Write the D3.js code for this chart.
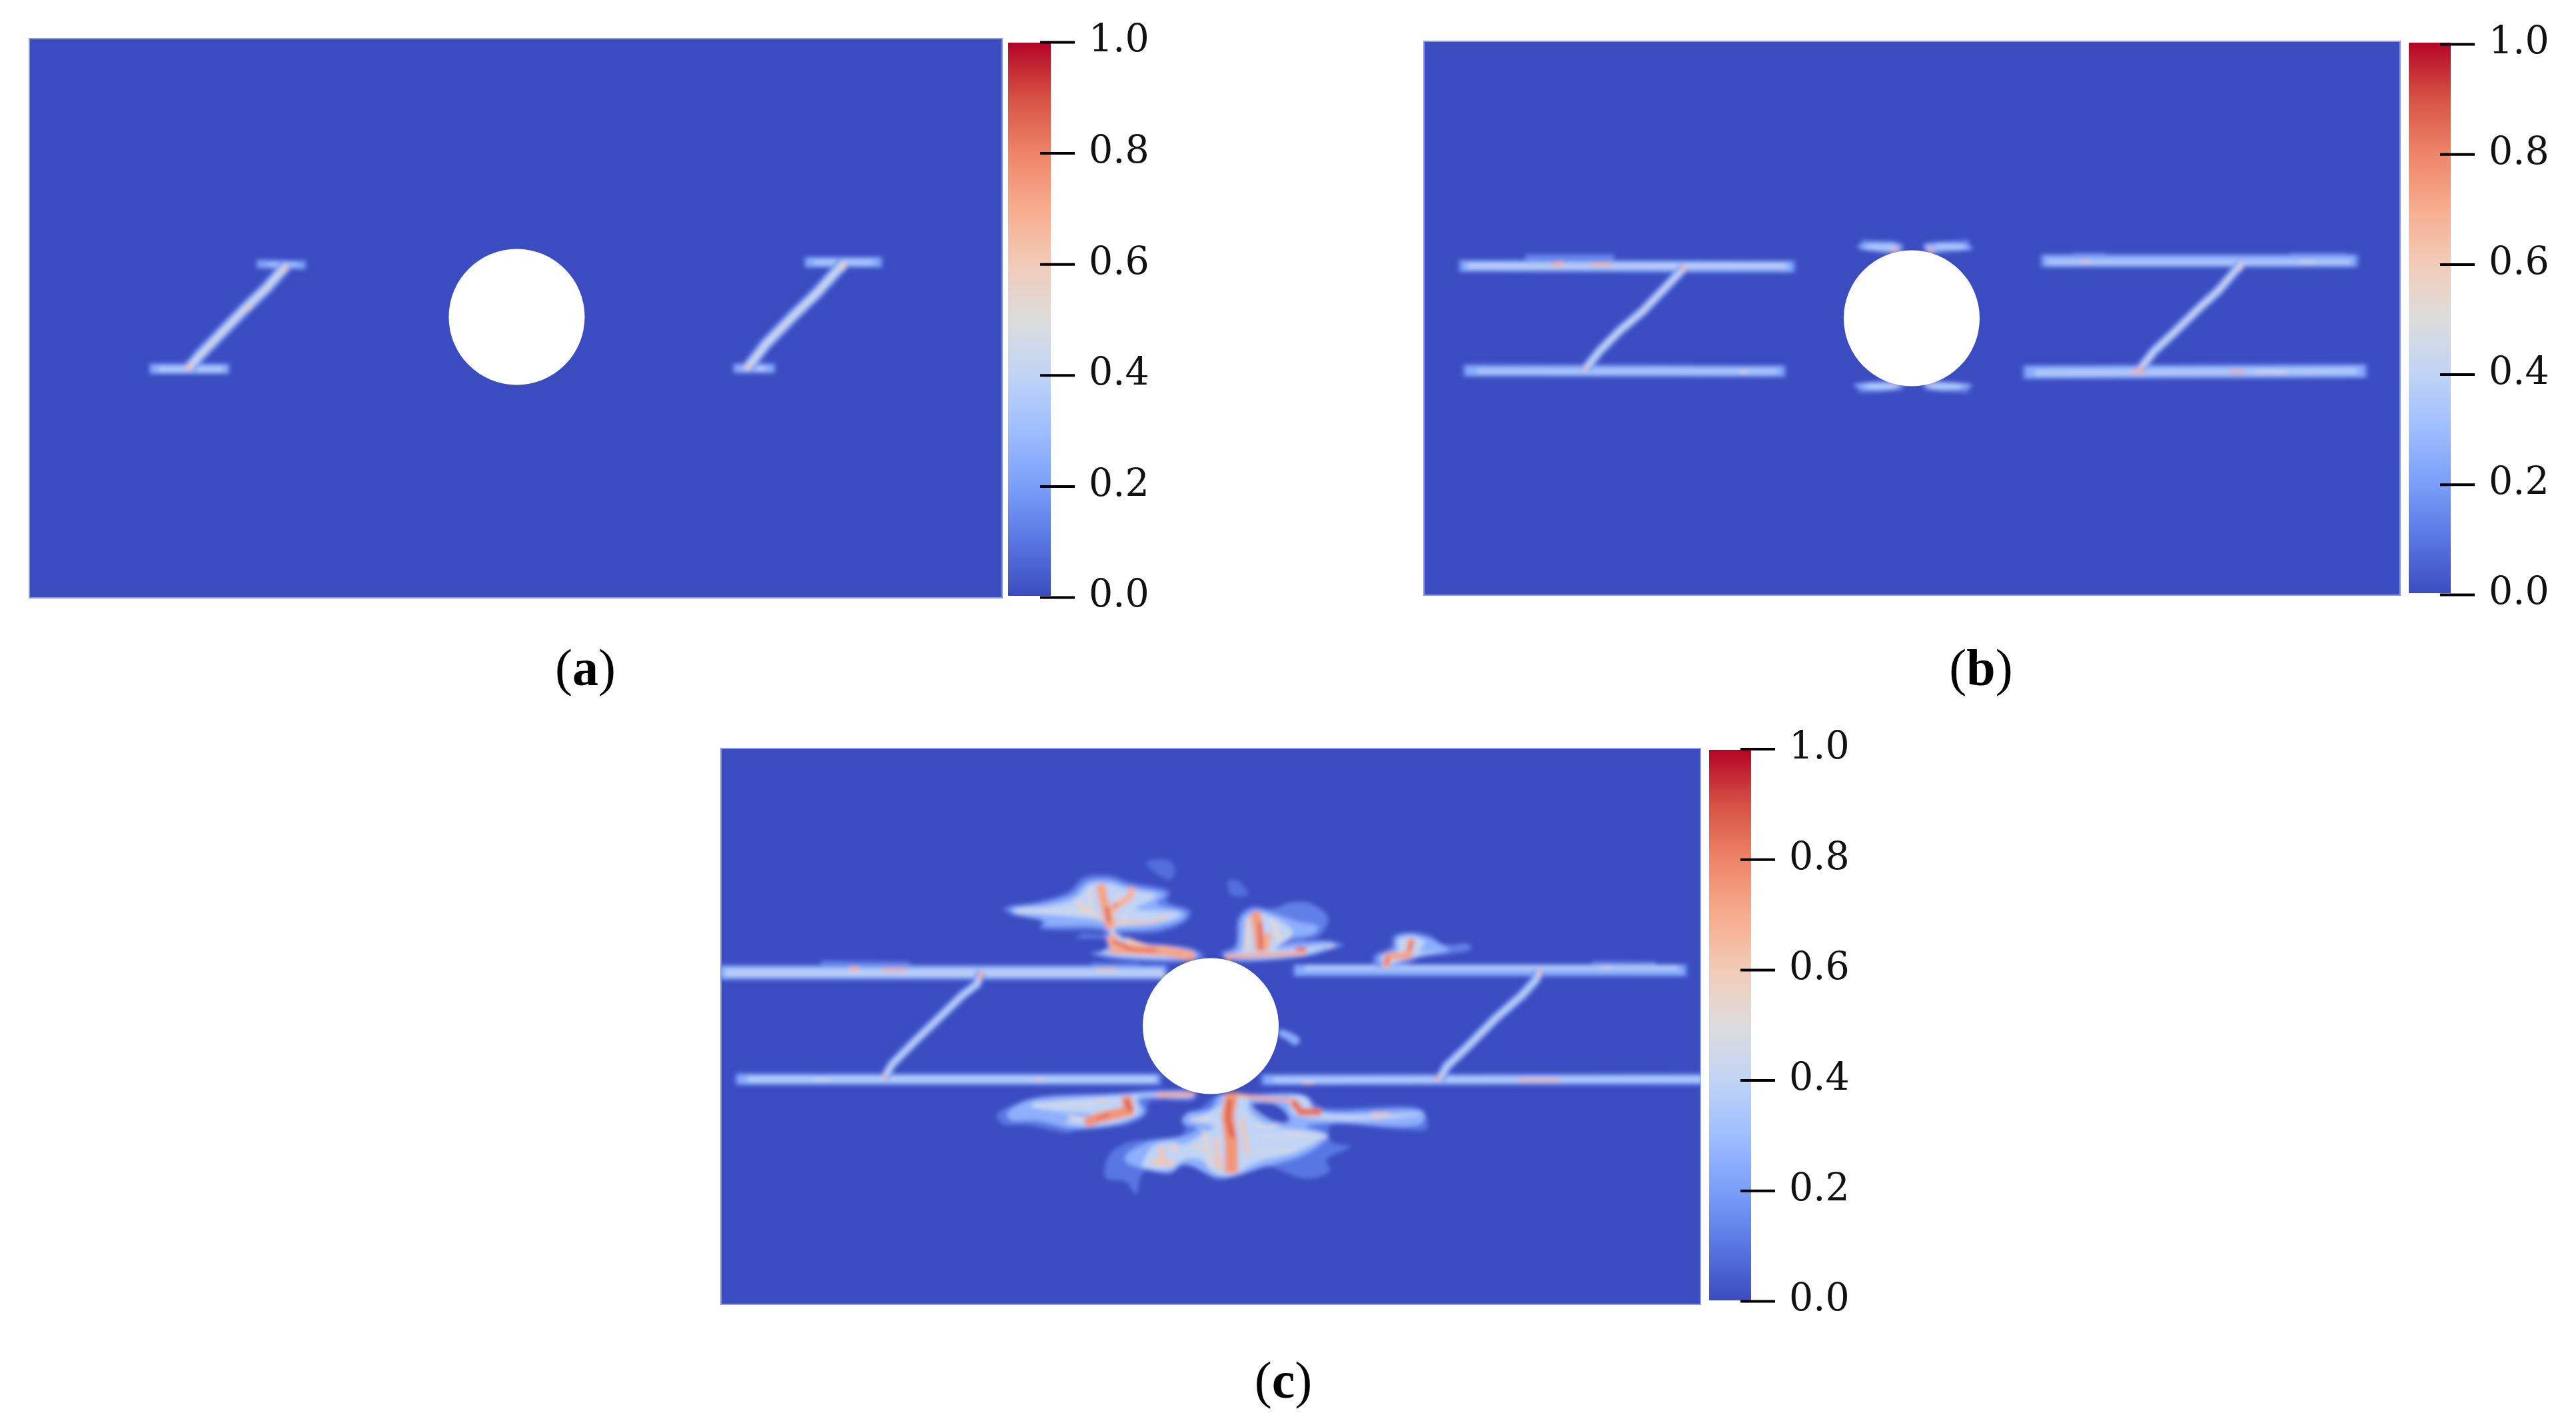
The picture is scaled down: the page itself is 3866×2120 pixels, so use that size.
<!DOCTYPE html>
<html>
<head>
<meta charset="utf-8">
<script src="https://cdn.jsdelivr.net/npm/d3@7"></script>
<style>
  html, body { margin: 0; background: #fff; }
  svg { display: block; }
  .tick text { font-family: "DejaVu Serif", serif; font-size: 57px; fill: #111; }
  .caption { font-family: "Liberation Serif", serif; font-size: 78px; fill: #000; text-anchor: middle; }
  .caption tspan { font-weight: bold; }
</style>
</head>
<body>
<div class="chart"></div>
<script>
// colour bar
const colorStops = [0, 0.1, 0.2, 0.3, 0.4, 0.5, 0.6, 0.7, 0.8, 0.9, 1];
const colorValues = ['#3b4cc0', '#5977e3', '#7b9ff9', '#9ebeff', '#c0d4f5', '#dddcdc', '#f2cbb7', '#f7ac8e', '#ee8468', '#d65244', '#b40426'];
const tickValues = [0, 0.2, 0.4, 0.6, 0.8, 1];

// damage field. rows are [damage, thickness, points]
const panelACracks = [
  [0.1, 50, [[30, 670], [190, 670]]],
  [0.24, 40, [[35, 670], [185, 670]]],
  [0.36, 22, [[50, 672], [175, 672]]],
  [0.1, 42, [[240, 198], [340, 203]]],
  [0.22, 32, [[245, 198], [335, 203]]],
  [0.32, 14, [[265, 200], [320, 200]]],
  [0.1, 50, [[1315, 190], [1470, 190]]],
  [0.24, 40, [[1320, 190], [1465, 190]]],
  [0.34, 20, [[1335, 190], [1450, 190]]],
  [0.1, 46, [[1175, 668], [1260, 668]]],
  [0.24, 36, [[1180, 668], [1255, 668]]],
  [0.36, 20, [[1195, 668], [1240, 668]]],
  [0.12, 58, [[110, 665], [130, 610], [168, 520], [221, 395], [260, 310], [300, 205]]],
  [0.28, 42, [[110, 665], [130, 610], [168, 520], [221, 395], [260, 310], [300, 205]]],
  [0.46, 20, [[110, 665], [130, 610], [168, 520], [221, 395], [260, 310], [300, 205]]],
  [0.12, 58, [[1205, 665], [1240, 560], [1295, 430], [1340, 330], [1395, 190]]],
  [0.28, 42, [[1205, 665], [1240, 560], [1295, 430], [1340, 330], [1395, 190]]],
  [0.46, 20, [[1205, 665], [1240, 560], [1295, 430], [1340, 330], [1395, 190]]],
  [0.64, 20, [[108, 648], [110, 674]]],
  [0.6, 14, [[221, 395], [232, 395]]],
  [0.56, 12, [[258, 310], [264, 310]]],
  [0.62, 12, [[299, 200], [293, 240]]],
  [0.62, 16, [[1205, 648], [1205, 674]]],
  [0.6, 14, [[1395, 190], [1392, 225]]]
];

const panelBCracks = [
  [0.14, 34, [[145, 172], [285, 172]]],
  [0.14, 24, [[1005, 160], [1055, 160]]],
  [0.14, 24, [[1345, 160], [1435, 160]]],
  [0.1, 56, [[40, 207], [570, 210]]],
  [0.24, 46, [[45, 207], [565, 210]]],
  [0.38, 24, [[55, 207], [555, 207]]],
  [0.1, 56, [[47, 678], [555, 680]]],
  [0.24, 46, [[52, 678], [550, 680]]],
  [0.34, 22, [[70, 682], [540, 682]]],
  [0.1, 60, [[953, 184], [1453, 184]]],
  [0.24, 50, [[958, 184], [1448, 184]]],
  [0.37, 18, [[965, 190], [1440, 190]]],
  [0.1, 64, [[925, 685], [1467, 680]]],
  [0.24, 54, [[930, 685], [1462, 680]]],
  [0.36, 26, [[945, 688], [1450, 680]]],
  [0.12, 46, [[395, 215], [360, 320], [330, 410], [293, 500], [262, 590], [240, 670]]],
  [0.26, 34, [[395, 215], [360, 320], [330, 410], [293, 500], [262, 590], [240, 670]]],
  [0.44, 16, [[395, 215], [360, 320], [330, 410], [293, 500], [262, 590], [240, 670]]],
  [0.12, 46, [[1268, 200], [1232, 320], [1205, 390], [1162, 510], [1132, 590], [1110, 670]]],
  [0.26, 34, [[1268, 200], [1232, 320], [1205, 390], [1162, 510], [1132, 590], [1110, 670]]],
  [0.44, 16, [[1268, 200], [1232, 320], [1205, 390], [1162, 510], [1132, 590], [1110, 670]]],
  [0.68, 14, [[185, 200], [207, 200]]],
  [0.68, 16, [[200, 185], [200, 200]]],
  [0.68, 14, [[248, 200], [280, 200]]],
  [0.66, 18, [[395, 208], [392, 230]]],
  [0.66, 14, [[240, 655], [240, 680]]],
  [0.55, 10, [[482, 685], [494, 685]]],
  [0.62, 12, [[1018, 188], [1032, 188]]],
  [0.6, 14, [[1268, 195], [1268, 225]]],
  [0.68, 16, [[1112, 655], [1108, 685]]],
  [0.68, 12, [[1095, 684], [1115, 684]]],
  [0.72, 12, [[1250, 684], [1275, 684]]],
  [0.5, 10, [[1290, 685], [1340, 685]]],
  [0.52, 8, [[1360, 188], [1385, 188]]],
  [0.12, 50, [[672, 112], [738, 132]]],
  [0.12, 50, [[772, 132], [842, 112]]],
  [0.12, 44, [[668, 758], [738, 742]]],
  [0.12, 44, [[772, 742], [842, 758]]]
];

const panelBWings = [
  [0.26, [[665, 120], [690, 102], [730, 105], [735, 130], [720, 145], [690, 135]]],
  [0.26, [[770, 115], [795, 100], [835, 110], [848, 128], [800, 135], [780, 145]]],
  [0.26, [[660, 745], [690, 730], [725, 735], [735, 750], [705, 770], [675, 760]]],
  [0.26, [[770, 745], [790, 730], [820, 735], [848, 745], [800, 770], [780, 760]]]
];

const panelBWingCores = [
  [0.38, 16, [[680, 122], [725, 125]]],
  [0.38, 16, [[790, 122], [835, 122]]],
  [0.38, 16, [[680, 748], [725, 750]]],
  [0.38, 16, [[785, 750], [830, 748]]],
  [0.66, 22, [[725, 125], [725, 145]]],
  [0.66, 22, [[782, 125], [782, 145]]],
  [0.64, 14, [[725, 738], [725, 750]]],
  [0.64, 16, [[780, 736], [782, 750]]]
];

const panelCCracks = [
  [0.12, 22, [[190, 585], [330, 590]]],
  [0.12, 16, [[615, 590], [690, 592]]],
  [0.12, 14, [[1400, 582], [1500, 585]]],
  [0.1, 68, [[30, 627], [735, 627]]],
  [0.24, 58, [[32, 627], [730, 627]]],
  [0.38, 34, [[40, 628], [725, 628]]],
  [0.1, 56, [[930, 618], [1550, 618]]],
  [0.24, 46, [[935, 618], [1545, 618]]],
  [0.35, 24, [[950, 605], [1535, 605]]],
  [0.1, 54, [[55, 1108], [725, 1108]]],
  [0.24, 44, [[60, 1108], [720, 1108]]],
  [0.38, 24, [[75, 1108], [715, 1108]]],
  [0.1, 52, [[880, 1110], [1575, 1108]]],
  [0.24, 42, [[885, 1110], [1575, 1108]]],
  [0.36, 22, [[900, 1112], [1575, 1108]]],
  [0.12, 44, [[442, 625], [435, 680], [412, 730], [378, 825], [340, 930], [302, 1040], [290, 1100]]],
  [0.26, 32, [[442, 625], [435, 680], [412, 730], [378, 825], [340, 930], [302, 1040], [290, 1100]]],
  [0.42, 14, [[442, 625], [435, 680], [412, 730], [378, 825], [340, 930], [302, 1040], [290, 1100]]],
  [0.12, 46, [[1318, 620], [1312, 660], [1290, 730], [1250, 830], [1205, 960], [1172, 1050], [1160, 1110]]],
  [0.26, 34, [[1318, 620], [1312, 660], [1290, 730], [1250, 830], [1205, 960], [1172, 1050], [1160, 1110]]],
  [0.42, 14, [[1318, 620], [1312, 660], [1290, 730], [1250, 830], [1205, 960], [1172, 1050], [1160, 1110]]],
  [0.68, 20, [[235, 612], [250, 612]]],
  [0.7, 12, [[285, 615], [325, 615]]],
  [0.62, 12, [[622, 615], [655, 615]]],
  [0.6, 14, [[725, 625], [727, 640]]],
  [0.7, 16, [[442, 625], [440, 660]]],
  [0.7, 14, [[290, 1085], [290, 1105]]],
  [0.55, 8, [[1415, 604], [1432, 604]]],
  [0.65, 12, [[1318, 615], [1318, 645]]],
  [0.7, 14, [[1160, 1090], [1157, 1115]]],
  [0.6, 10, [[526, 1112], [540, 1112]]],
  [0.46, 10, [[180, 1110], [205, 1110]]],
  [0.62, 10, [[945, 1125], [965, 1125]]],
  [0.68, 12, [[1285, 1112], [1350, 1112]]],
  [0.38, 12, [[918, 905], [932, 935]]]
];

const panelCSpot = [0.24, [[910, 885], [925, 895], [942, 930], [935, 955], [918, 925], [908, 910]]];

// upper cluster of panel (c): contours of equal damage, then the crack lines
const upperContours = [
  [0.08, [[530, 70], [600, 65], [615, 110], [600, 150], [550, 110]]],
  [0.08, [[770, 155], [800, 155], [830, 215], [780, 220]]],
  [0.12, [[110, 280], [220, 245], [300, 205], [345, 140], [420, 130], [480, 160], [600, 205], [590, 245], [660, 290], [650, 330], [570, 385], [455, 395], [500, 425], [670, 460], [700, 495], [640, 520], [420, 505], [365, 480], [410, 460], [410, 420], [325, 410], [340, 395], [405, 395], [405, 385], [215, 365], [225, 340], [130, 305]]],
  [0.12, [[750, 480], [790, 445], [800, 320], [840, 270], [900, 280], [960, 250], [1020, 260], [1065, 320], [1040, 400], [990, 420], [1080, 425], [1110, 445], [1060, 470], [1020, 490], [985, 500], [800, 520], [770, 510]]],
  [0.12, [[1200, 490], [1250, 450], [1255, 405], [1310, 385], [1370, 405], [1400, 440], [1480, 440], [1485, 460], [1420, 485], [1340, 500], [1290, 530], [1200, 535]]],
  [0.25, [[130, 280], [230, 255], [315, 215], [355, 160], [420, 150], [480, 180], [585, 215], [560, 255], [645, 300], [640, 325], [565, 365], [450, 378], [430, 385], [490, 430], [650, 465], [685, 495], [640, 510], [425, 495], [380, 480], [420, 465], [415, 375], [225, 355], [235, 340], [140, 300]]],
  [0.25, [[755, 490], [795, 460], [810, 320], [845, 285], [900, 300], [980, 340], [1035, 360], [1020, 395], [960, 410], [920, 440], [1060, 430], [1090, 445], [1020, 485], [800, 510]]],
  [0.25, [[1210, 500], [1260, 460], [1265, 410], [1310, 395], [1360, 415], [1420, 465], [1340, 490], [1280, 520], [1250, 535], [1215, 530]]],
  [0.4, [[140, 285], [240, 270], [320, 235], [365, 170], [415, 165], [470, 190], [560, 220], [540, 245], [500, 280], [630, 300], [620, 320], [540, 350], [440, 365], [435, 380], [485, 430], [640, 470], [675, 495], [640, 500], [420, 485], [400, 470], [425, 460], [410, 345], [330, 320], [230, 305], [145, 295]]],
  [0.4, [[770, 490], [810, 470], [825, 330], [850, 295], [890, 310], [960, 380], [950, 410], [910, 460], [1020, 450], [1060, 445], [1005, 480], [790, 500]]],
  [0.4, [[1225, 490], [1270, 470], [1270, 420], [1310, 405], [1350, 430], [1335, 470], [1400, 470], [1300, 500], [1250, 530], [1230, 530]]]
];

const upperCracks = [
  [0.46, 14, [[150, 290], [300, 295]]],
  [0.55, 12, [[360, 190], [370, 300]]],
  [0.55, 12, [[450, 215], [440, 300]]],
  [0.5, 12, [[470, 300], [460, 350]]],
  [0.58, 16, [[340, 270], [400, 330]]],
  [0.5, 10, [[300, 290], [380, 300]]],
  [0.62, 10, [[430, 330], [500, 345]]],
  [0.6, 16, [[470, 415], [540, 455]]],
  [0.55, 18, [[830, 320], [825, 470]]],
  [0.52, 22, [[900, 330], [925, 430]]],
  [0.5, 12, [[950, 390], [940, 415]]],
  [0.72, 42, [[395, 170], [405, 250], [420, 330], [425, 370]]],
  [0.68, 30, [[490, 185], [480, 230], [430, 280], [420, 320]]],
  [0.62, 12, [[440, 340], [540, 340], [590, 318]]],
  [0.86, 18, [[415, 270], [420, 340]]],
  [0.85, 14, [[432, 265], [445, 265]]],
  [0.55, 10, [[218, 290], [232, 290]]],
  [0.56, 18, [[325, 240], [350, 300]]],
  [0.7, 44, [[425, 400], [435, 440], [500, 465], [590, 470], [670, 495]]],
  [0.85, 16, [[430, 425], [490, 465], [560, 468]]],
  [0.74, 14, [[420, 472], [640, 485]]],
  [0.74, 22, [[650, 500], [670, 495]]],
  [0.74, 46, [[850, 295], [860, 380], [865, 470]]],
  [0.7, 30, [[890, 390], [880, 470]]],
  [0.87, 16, [[865, 340], [868, 470]]],
  [0.7, 16, [[770, 495], [1000, 480]]],
  [0.85, 18, [[970, 462], [1000, 462]]],
  [0.6, 10, [[1060, 448], [1078, 448]]],
  [0.72, 24, [[762, 500], [778, 500]]],
  [0.72, 32, [[1310, 415], [1300, 490], [1240, 495], [1235, 545]]],
  [0.85, 14, [[1312, 420], [1305, 470]]],
  [0.85, 14, [[1240, 495], [1238, 530]]]
];

// lower cluster of panel (c)
const lowerContours = [
  [0.1, [[90, 220], [180, 150], [430, 120], [560, 105], [680, 120], [670, 150], [540, 160], [530, 215], [480, 260], [320, 290], [300, 300], [260, 290], [180, 265], [110, 260]]],
  [0.1, [[420, 400], [470, 345], [640, 300], [640, 230], [690, 190], [740, 130], [830, 125], [1000, 130], [1040, 180], [1340, 195], [1355, 280], [1280, 285], [1070, 270], [1075, 340], [1130, 360], [1060, 420], [1070, 470], [1000, 505], [880, 450], [800, 490], [740, 510], [660, 450], [520, 480], [500, 575], [470, 520], [410, 500]]],
  [0.25, [[120, 215], [185, 150], [430, 125], [670, 118], [665, 140], [510, 150], [525, 205], [470, 250], [320, 280], [210, 245], [130, 240]]],
  [0.25, [[470, 400], [540, 340], [650, 310], [680, 280], [635, 250], [650, 210], [720, 190], [745, 130], [830, 130], [990, 130], [1030, 195], [1345, 205], [1340, 255], [1060, 255], [1000, 270], [1065, 310], [1050, 340], [990, 400], [860, 460], [790, 495], [730, 495], [640, 440], [600, 480], [500, 450], [470, 430]]],
  [0, [[840, 172], [910, 170], [945, 215], [950, 250], [900, 245]]],
  [0.4, [[190, 175], [430, 135], [660, 125], [650, 135], [500, 145], [510, 205], [460, 245], [340, 265], [290, 250], [370, 215], [280, 205], [190, 180]]],
  [0.4, [[520, 430], [550, 360], [600, 340], [640, 350], [700, 300], [730, 270], [660, 240], [700, 215], [750, 170], [760, 130], [830, 135], [830, 190], [880, 260], [1050, 310], [980, 380], [860, 430], [780, 490], [730, 480], [690, 420], [640, 420], [600, 460], [520, 450]]],
  [0.4, [[950, 140], [1000, 140], [1030, 200], [1340, 215], [1200, 240], [1020, 235], [960, 210]]]
];

const lowerCracks = [
  [0.45, 14, [[860, 320], [1060, 315]]],
  [0.45, 16, [[850, 380], [970, 375]]],
  [0.5, 10, [[850, 265], [920, 265]]],
  [0.47, 16, [[660, 240], [720, 235]]],
  [0.47, 12, [[930, 300], [1000, 300]]],
  [0.46, 16, [[200, 170], [380, 165]]],
  [0.48, 16, [[300, 225], [350, 240]]],
  [0.56, 16, [[700, 290], [720, 450]]],
  [0.62, 18, [[810, 230], [830, 400]]],
  [0.56, 16, [[665, 350], [700, 370]]],
  [0.64, 16, [[745, 400], [745, 470]]],
  [0.76, 46, [[470, 135], [480, 200], [390, 230], [350, 255]]],
  [0.87, 22, [[470, 150], [485, 200]]],
  [0.82, 24, [[420, 215], [385, 240]]],
  [0.58, 10, [[380, 155], [420, 155]]],
  [0.7, 18, [[560, 130], [670, 125]]],
  [0.76, 58, [[780, 130], [770, 220], [780, 340], [780, 480]]],
  [0.88, 20, [[775, 150], [770, 240], [785, 320]]],
  [0.62, 20, [[735, 320], [740, 450]]],
  [0.62, 24, [[575, 360], [575, 440]]],
  [0.56, 24, [[610, 350], [615, 385]]],
  [0.62, 22, [[545, 430], [610, 435]]],
  [0.7, 16, [[790, 125], [880, 145], [960, 150]]],
  [0.83, 34, [[960, 155], [985, 205], [1045, 205]]],
  [0.62, 12, [[1190, 215], [1245, 215]]],
  [0.6, 14, [[1205, 225], [1210, 235]]],
  [0.76, 14, [[765, 125], [800, 125]]]
];

const captionLetters = ['a', 'b', 'c'];

const width = 3866;
const height = 2120;

const color = d3.scaleLinear().domain(colorStops).range(colorValues);

const svg = d3.select('.chart').append('svg')
  .attr('width', width)
  .attr('height', height);

const defs = svg.append('defs');
const gradient = defs.append('linearGradient')
  .attr('id', 'bar')
  .attr('x1', 0).attr('y1', 1).attr('x2', 0).attr('y2', 0);
gradient.selectAll('stop')
  .data(colorStops)
  .enter()
  .append('stop')
    .attr('offset', (d) => d)
    .attr('stop-color', (d) => color(d));
defs.append('filter')
  .attr('id', 'soft')
  .attr('filterUnits', 'userSpaceOnUse')
  .attr('x', 0).attr('y', 0).attr('width', width).attr('height', height)
  .append('feGaussianBlur')
    .attr('stdDeviation', 3);

// the zoomed crops the field was read from, grid units to page pixels
function gridScales(x0, y0, spanX, spanY, gridX, gridY){
  return {
    x: d3.scaleLinear().domain([0, gridX]).range([x0, x0 + spanX]),
    y: d3.scaleLinear().domain([0, gridY]).range([y0, y0 + spanY]),
    thick: d3.scaleLinear().domain([0, gridY]).range([0, spanY])
  };
}
const gridA = gridScales(200, 330, 1200, 280, 1568, 840);
const gridB = gridScales(2150, 330, 1500, 280, 1568, 840);
const gridC = gridScales(1050, 1250, 1500, 420, 1568, 1260);
const gridUp = gridScales(1450, 1270, 800, 230, 1568, 690);
const gridLow = gridScales(1450, 1600, 800, 240, 1568, 720);

const panels = [
  { id: 'a', x0: 43, x1: 1505, y0: 57, y1: 898, cx: 775.5, cy: 475.5,
    bar: { x0: 1513, x1: 1577, top: 64, bottom: 894, tick1: 63, tick0: 896, tx: 1561 }, caption: 878.5 },
  { id: 'b', x0: 2136, x1: 3603, y0: 61, y1: 894, cx: 2869, cy: 477.5,
    bar: { x0: 3615, x1: 3678, top: 64, bottom: 890, tick1: 66, tick0: 892, tx: 3662 }, caption: 2973 },
  { id: 'c', x0: 1081, x1: 2553, y0: 1122, y1: 1958, cx: 1817, cy: 1539.5,
    bar: { x0: 2565, x1: 2628, top: 1125, bottom: 1951, tick1: 1123.5, tick0: 1952, tx: 2612 }, caption: 1926 }
];
const captionY = [1028, 1028, 2097];

function drawContours(g, rows, grid){
  const line = d3.line()
    .x((d) => grid.x(d[0]))
    .y((d) => grid.y(d[1]))
    .curve(d3.curveCatmullRomClosed.alpha(0.5));
  g.selectAll(null)
    .data(rows)
    .enter()
    .append('path')
      .attr('d', (d) => line(d[1]))
      .attr('fill', (d) => color(d[0]));
}

function drawCracks(g, rows, grid){
  const line = d3.line()
    .x((d) => grid.x(d[0]))
    .y((d) => grid.y(d[1]));
  g.selectAll(null)
    .data(rows)
    .enter()
    .append('path')
      .attr('d', (d) => line(d[2]))
      .attr('fill', 'none')
      .attr('stroke', (d) => color(d[0]))
      .attr('stroke-width', (d) => grid.thick(d[1]))
      .attr('stroke-linejoin', 'round');
}

panels.forEach((p, i) => {
  let group = svg.append('g').attr('class', 'panel');

  group.append('clipPath')
    .attr('id', `clip-${p.id}`)
    .append('rect')
      .attr('x', p.x0).attr('y', p.y0)
      .attr('width', p.x1 - p.x0).attr('height', p.y1 - p.y0);

  group.append('rect')
    .attr('x', p.x0 + 1).attr('y', p.y0 + 1)
    .attr('width', p.x1 - p.x0 - 2).attr('height', p.y1 - p.y0 - 2)
    .attr('fill', color(0))
    .attr('stroke', '#8f9ce6')
    .attr('stroke-width', 2);

  let field = group.append('g')
    .attr('clip-path', `url(#clip-${p.id})`)
    .append('g')
      .attr('filter', 'url(#soft)');

  if(p.id === 'a'){
    drawCracks(field, panelACracks, gridA);
  }
  if(p.id === 'b'){
    drawCracks(field, panelBCracks, gridB);
    drawContours(field, panelBWings, gridB);
    drawCracks(field, panelBWingCores, gridB);
  }
  if(p.id === 'c'){
    drawCracks(field, panelCCracks, gridC);
    drawContours(field, [panelCSpot], gridC);
    drawContours(field, upperContours, gridUp);
    drawCracks(field, upperCracks, gridUp);
    drawContours(field, lowerContours, gridLow);
    drawCracks(field, lowerCracks, gridLow);
  }

  // the hole
  group.append('circle')
    .attr('cx', p.cx).attr('cy', p.cy).attr('r', 102)
    .attr('fill', '#fff');

  // colour bar
  group.append('rect')
    .attr('x', p.bar.x0).attr('y', p.bar.top)
    .attr('width', p.bar.x1 - p.bar.x0).attr('height', p.bar.bottom - p.bar.top)
    .attr('fill', 'url(#bar)');

  let barScale = d3.scaleLinear().domain([0, 1]).range([p.bar.tick0, p.bar.tick1]);
  let axis = d3.axisRight(barScale)
    .tickValues(tickValues)
    .tickSize(52)
    .tickPadding(21)
    .tickFormat(d3.format('.1f'));
  let axisGroup = group.append('g')
    .attr('transform', `translate(${p.bar.tx},0)`)
    .call(axis);
  axisGroup.select('.domain').remove();
  axisGroup.selectAll('line').attr('stroke', '#000').attr('stroke-width', 4);
  axisGroup.selectAll('text').attr('dy', '0.245em');

  // caption, only the letter is bold
  let caption = group.append('text')
    .attr('class', 'caption')
    .attr('x', p.caption)
    .attr('y', captionY[i]);
  caption.append('tspan').style('font-weight', 'normal').text('(');
  caption.append('tspan').text(captionLetters[i]);
  caption.append('tspan').style('font-weight', 'normal').text(')');
});
</script>
</body>
</html>
